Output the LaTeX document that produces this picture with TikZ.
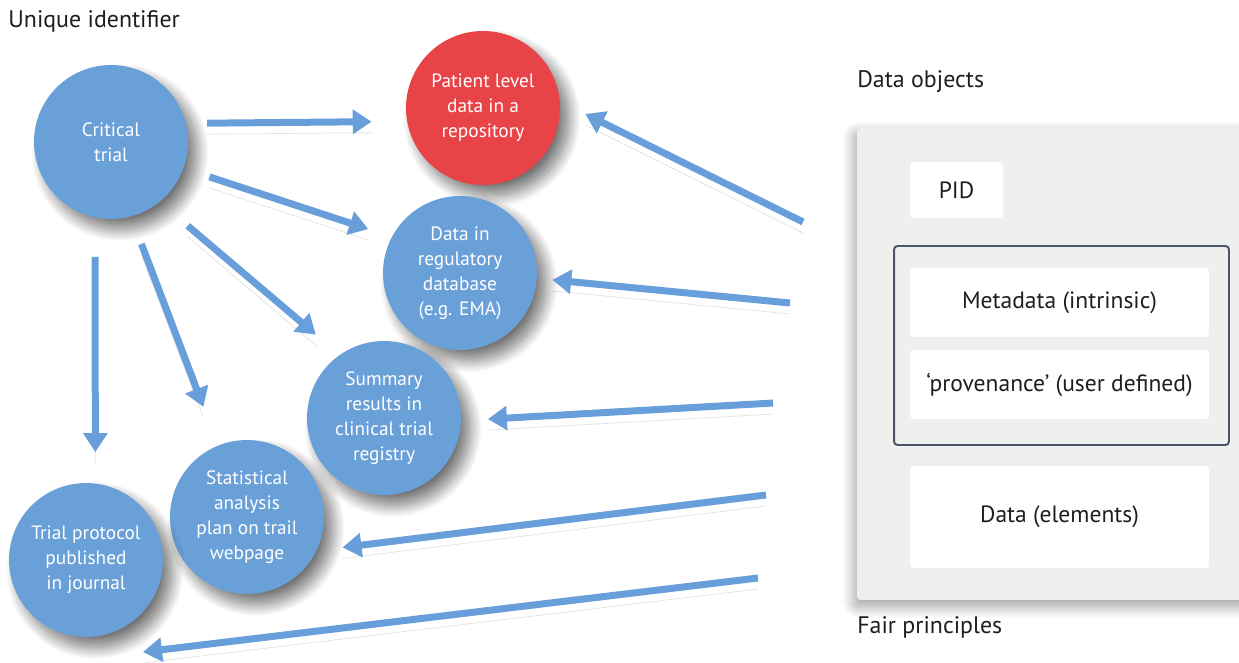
\documentclass[tikz,border=0pt]{standalone}
\usepackage{fontspec}
\setmainfont{PT Sans}
\usetikzlibrary{arrows.meta,shadows.blur}

\definecolor{trialblue}{RGB}{106,160,216}
\definecolor{arrowblue}{RGB}{104,158,218}
\definecolor{repored}{RGB}{232,67,71}
\definecolor{panelgrey}{RGB}{239,239,237}
\definecolor{groupline}{RGB}{75,85,103}
\definecolor{labeltext}{RGB}{30,30,30}

\tikzset{
  bubble/.style={circle, fill=trialblue, text=white, align=center,
    inner sep=0pt, outer sep=0pt, minimum size=3.08cm,
    font=\fontsize{11}{14.2}\selectfont,
    blur shadow={shadow xshift=0.18cm, shadow yshift=-0.21cm,
      shadow blur radius=0.24cm, shadow blur steps=20, shadow opacity=55}},
  hotbubble/.style={bubble, fill=repored},
  haze/.style={preaction={draw=black, draw opacity=#1, -, line cap=round,
      transform canvas={yshift=-0.22cm}}},
  flow/.style={draw=arrowblue, line width=0.14cm,
    -{Triangle[width=0.47cm,length=0.38cm]},
    preaction={haze=0.018, line width=1.2cm},
    preaction={haze=0.018, line width=1.0cm},
    preaction={haze=0.018, line width=0.8cm},
    preaction={haze=0.018, line width=0.62cm},
    preaction={haze=0.018, line width=0.46cm},
    preaction={haze=0.018, line width=0.3cm}},
  panel/.style={fill=panelgrey, rounded corners=2pt, inner sep=0pt,
    blur shadow={shadow xshift=-0.04cm, shadow yshift=-0.12cm,
      shadow blur radius=0.25cm, shadow blur steps=20, shadow opacity=40}},
  card/.style={fill=white, rounded corners=2pt, inner sep=0pt,
    font=\fontsize{13.4}{15}\selectfont, text=labeltext},
  groupbox/.style={draw=groupline, line width=1.1pt, rounded corners=2pt,
    inner sep=0pt},
  caption/.style={font=\fontsize{13.6}{15}\selectfont, text=labeltext,
    inner sep=0pt, anchor=base west}
}

\begin{document}
\begin{tikzpicture}[x=0.02cm, y=-0.02cm]
\useasboundingbox (0,0) rectangle (1239,662);

% headings
\node[caption] (uid)  at (8,28)   {Unique identifier};
\node[caption] (dobj) at (857,88) {Data objects};
\node[caption] (fair) at (857,633) {Fair principles};

% data object panel
\node[panel, minimum width=7.84cm, minimum height=9.44cm] (panel) at (1053,364) {};
\node[card, minimum width=1.86cm, minimum height=1.12cm] (pid) at (956.5,190) {PID};
\node[groupbox, minimum width=6.7cm, minimum height=3.98cm] (group) at (1061.5,345.5) {};
\node[card, minimum width=5.98cm, minimum height=1.38cm] (meta) at (1059.5,302.5) {Metadata (intrinsic)};
\node[card, minimum width=5.98cm, minimum height=1.38cm] (prov) at (1059.5,384.5) {‘provenance’ (user defined)};
\node[card, minimum width=5.98cm, minimum height=2.04cm] (data) at (1059.5,517) {Data (elements)};

% outputs of the trial
\node[bubble] (ct) at (111,142) {Critical\\trial};
\node[hotbubble] (pl) at (483,108) {Patient level\\data in a\\repository};
\node[bubble] (dr) at (460,273) {Data in\\regulatory\\database\\(e.g. EMA)};
\node[bubble] (sr) at (384,418) {Summary\\results in\\clinical trial\\registry};
\node[bubble] (sa) at (247,517) {Statistical\\analysis\\plan on trail\\webpage};
\node[bubble] (tp) at (86,560) {Trial protocol\\published\\in journal};

% free ends of the arrows coming from the panel
\coordinate (f1) at (803,222);
\coordinate (f2) at (790,303);
\coordinate (f3) at (773,403);
\coordinate (f4) at (766,495);
\coordinate (f5) at (758,578);
\coordinate (f5tip) at (143,652);

% trial to its outputs
\draw[flow, shorten <=0.43cm, shorten >=0.71cm] (ct.14.9) -- (pl.190.5);
\draw[flow, shorten <=0.55cm, shorten >=0.50cm] (ct.-20.6) -- (dr.152.8);
\draw[flow, shorten <=0.74cm, shorten >=0.63cm] (ct.-51.4) -- (sr.125.7);
\draw[flow, shorten <=0.59cm, shorten >=0.83cm] (ct.-75.5) -- (sa.112.3);
\draw[flow, shorten <=0.79cm, shorten >=0.63cm] (ct.258.2) -- (tp.83.3);

% panel to outputs
\draw[flow, shorten >=0.57cm] (f1) -- (pl.5.7);
\draw[flow, shorten >=0.31cm] (f2) -- (dr.-4.1);
\draw[flow, shorten >=0.54cm] (f3) -- (sr.-2.7);
\draw[flow, shorten >=0.53cm] (f4) -- (sa.-26.5);
\draw[flow] (f5) -- (f5tip);
\end{tikzpicture}
\end{document}
